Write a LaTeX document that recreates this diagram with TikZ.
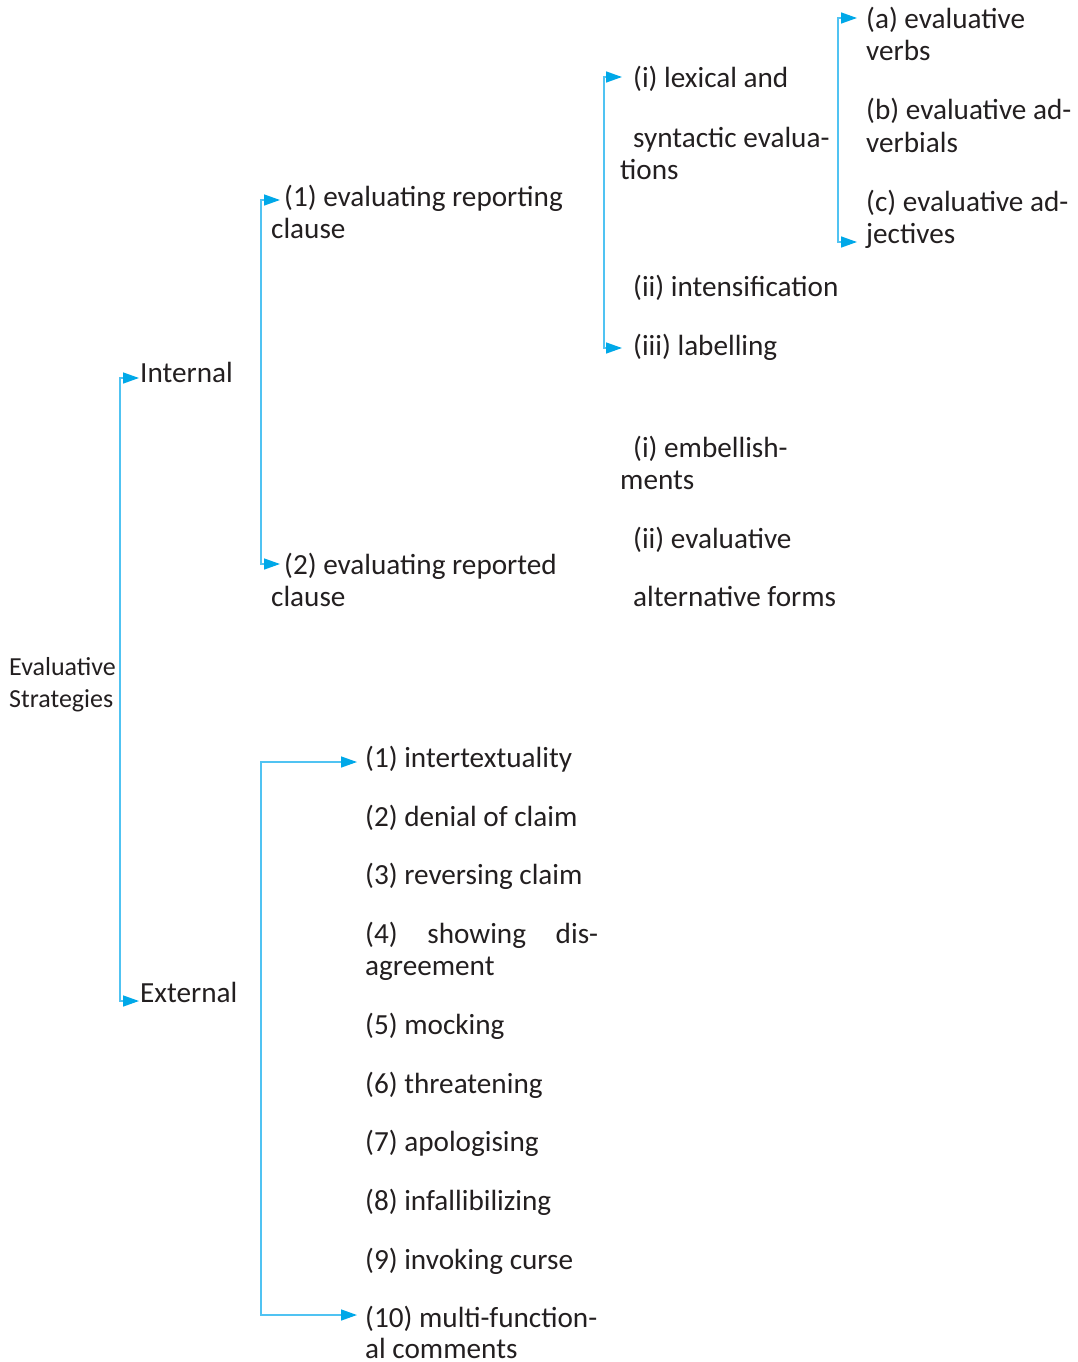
\documentclass[tikz,border=0pt]{standalone}
\usepackage{fontspec}
\setmainfont{Carlito}
\usetikzlibrary{arrows.meta}
\definecolor{linecol}{RGB}{80,195,242}
\definecolor{tipcol}{RGB}{0,168,232}
\definecolor{txt}{RGB}{35,31,32}
\tikzset{
  lbl/.style={inner sep=0pt, anchor=base west, text=txt, font=\fontsize{29.2}{32}\selectfont},
  rootlbl/.style={lbl, font=\fontsize{26}{32}\selectfont},
  conn/.style={draw=linecol, line width=1.4pt, -{Triangle[length=16pt,width=11pt,color=tipcol]}}
}
\begin{document}
\begin{tikzpicture}[x=1pt,y=-1pt]
\useasboundingbox (0,0) rectangle (1077,1362);
% root
\node[rootlbl] (root1) at (9,675) {Evaluative};
\node[rootlbl] (root2) at (9,707) {Strategies};
\node[lbl] (internal) at (140,382) {Internal};
\node[lbl] (external) at (140,1002) {External};
% internal
\node[lbl] (rep1) at (284,206) {(1) evaluating reporting};
\node[lbl] (rep2) at (271,238) {clause};
\node[lbl] (red1) at (284,574) {(2) evaluating reported};
\node[lbl] (red2) at (271,606) {clause};
\node[lbl] (lex1) at (633,88) {(i) lexical and};
\node[lbl] (lex2) at (633,147) {syntactic evalua-};
\node[lbl] (lex3) at (620,179) {tions};
\node[lbl] (intens) at (633,296) {(ii) intensification};
\node[lbl] (label) at (633,355) {(iii) labelling};
\node[lbl] (emb1) at (633,457) {(i) embellish-};
\node[lbl] (emb2) at (620,489) {ments};
\node[lbl] (evalt) at (633,548) {(ii) evaluative};
\node[lbl] (altf) at (633,606) {alternative forms};
\node[lbl] (a1) at (866,29) {(a) evaluative};
\node[lbl] (a2) at (866,61) {verbs};
\node[lbl] (b1) at (866,120) {(b) evaluative ad-};
\node[lbl] (b2) at (866,152) {verbials};
\node[lbl] (c1) at (866,211) {(c) evaluative ad-};
\node[lbl] (c2) at (866,243) {jectives};
% external
\node[lbl] (e1) at (365,767) {(1) intertextuality};
\node[lbl] (e2) at (365,826) {(2) denial of claim};
\node[lbl] (e3) at (365,884) {(3) reversing claim};
\node[lbl] (e4) at (365,943) {\makebox[233pt][l]{(4)\hfill showing\hfill dis-}};
\node[lbl] (e4b) at (365,975) {agreement};
\node[lbl] (e5) at (365,1034) {(5) mocking};
\node[lbl] (e6) at (365,1093) {(6) threatening};
\node[lbl] (e7) at (365,1151) {(7) apologising};
\node[lbl] (e8) at (365,1210) {(8) infallibilizing};
\node[lbl] (e9) at (365,1269) {(9) invoking curse};
\node[lbl] (e10) at (365,1327) {(10) multi-function-};
\node[lbl] (e10b) at (365,1358) {al comments};
% bars
\coordinate (rootbar) at (120,690);
\coordinate (intbar) at (261,400);
\coordinate (lexbar) at (604,200);
\coordinate (abar) at (838,130);
\coordinate (extbar) at (261,1000);
% connectors
\draw[conn] (rootbar) |- ([xshift=-1pt,yshift=4pt]internal.base west);
\draw[conn] (rootbar) |- ([xshift=-1pt,yshift=1pt]external.base west);
\draw[conn] (intbar) |- ([xshift=-4pt,yshift=6pt]rep1.base west);
\draw[conn] (intbar) |- ([xshift=-4pt,yshift=10pt]red1.base west);
\draw[conn] (lexbar) |- ([xshift=-11pt,yshift=11pt]lex1.base west);
\draw[conn] (lexbar) |- ([xshift=-11pt,yshift=7pt]label.base west);
\draw[conn] (abar) |- ([xshift=-9pt,yshift=11pt]a1.base west);
\draw[conn] (abar) |- ([xshift=-9pt,yshift=1pt]c2.base west);
\draw[conn] (extbar) |- ([xshift=-8pt,yshift=5pt]e1.base west);
\draw[conn] (extbar) |- ([xshift=-8pt,yshift=12pt]e10.base west);
\end{tikzpicture}
\end{document}
